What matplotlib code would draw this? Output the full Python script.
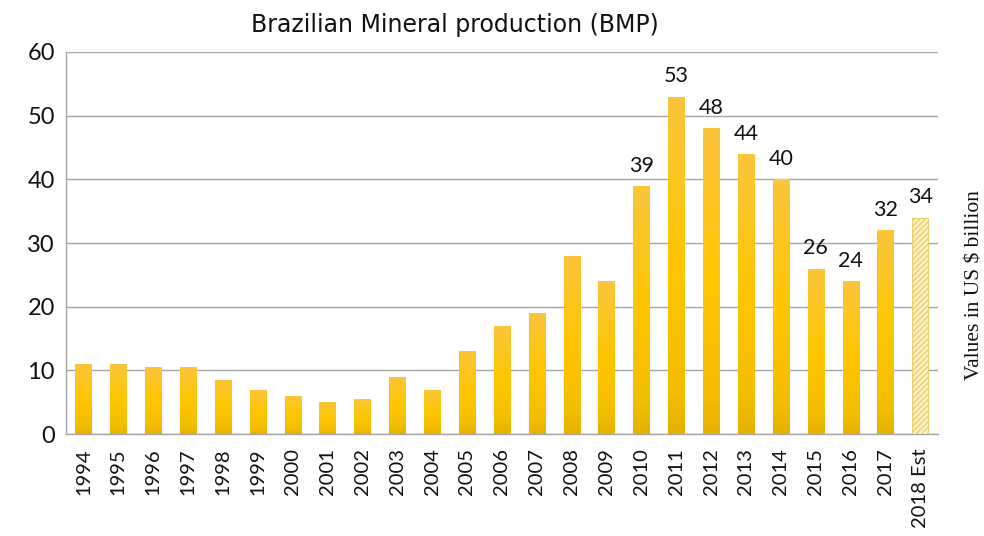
import matplotlib
matplotlib.use("Agg")
import matplotlib.pyplot as plt
import numpy as np
from matplotlib.colors import LinearSegmentedColormap

years = ["1994", "1995", "1996", "1997", "1998", "1999", "2000", "2001", "2002",
         "2003", "2004", "2005", "2006", "2007", "2008", "2009", "2010", "2011",
         "2012", "2013", "2014", "2015", "2016", "2017", "2018 Est"]
values = [11, 11, 10.5, 10.5, 8.5, 7, 6, 5, 5.5, 9, 7, 13, 17, 19, 28, 24,
          39, 53, 48, 44, 40, 26, 24, 32, 34]
labeled_from = "2010"
estimate = "2018 Est"

fig = plt.figure(figsize=(9.84, 5.36), dpi=100)
ax = fig.add_axes([0.067, 0.19, 0.886, 0.713])

x = np.arange(len(years))
width = 0.46
cmap = LinearSegmentedColormap.from_list(
    "g", [(0, "#E6B000"), (0.12, "#F4BD00"), (0.5, "#FFC600"), (1, "#FCC53C")])
grad = np.linspace(0, 1, 256).reshape(-1, 1)

for i, (yr, v) in enumerate(zip(years, values)):
    if yr == estimate:
        ax.bar(i, v, width, color="#FBF3C6", edgecolor="#E8CF70", hatch="//////",
               linewidth=0.8, zorder=3)
    else:
        b = ax.bar(i, v, width, color="none", edgecolor="none", zorder=3)[0]
        im = ax.imshow(grad, cmap=cmap, aspect="auto", origin="lower",
                       extent=[i - width / 2, i + width / 2, 0, v], zorder=3)
        im.set_clip_path(b)
    if years.index(yr) >= years.index(labeled_from):
        ax.text(i, v + 1.6, f"{v:g}", ha="center", va="bottom", fontsize=15.5,
                family="Lato", color="#111111", zorder=4)

ax.set_xlim(-0.5, len(years) - 0.5)
ax.set_ylim(0, 60)
ax.set_yticks(range(0, 61, 10))
ax.set_xticks(x)
ax.set_xticklabels(years, rotation=90, fontsize=14.5, family="Lato", color="#111111")
for t in ax.get_yticklabels():
    t.set_fontsize(17)
    t.set_family("Lato")
    t.set_color("#111111")
ax.tick_params(length=0, pad=8)
ax.tick_params(axis="x", pad=10)
ax.grid(axis="y", color="#A6A6A6", linewidth=1.0, zorder=0)
ax.set_axisbelow(True)
for s in ["top", "right"]:
    ax.spines[s].set_visible(False)
for s in ["left", "bottom"]:
    ax.spines[s].set_color("#A6A6A6")
    ax.spines[s].set_linewidth(1.0)

fig.text(0.462, 0.953, "Brazilian Mineral production (BMP)", ha="center", va="center",
         fontsize=17, family="DejaVu Sans", color="#111111")
fig.text(0.991, 0.468, "Values in US $ billion", rotation=90, ha="center", va="center",
         fontsize=15.5, family="Liberation Serif", color="#111111")

fig.savefig("out.png", dpi=100)
